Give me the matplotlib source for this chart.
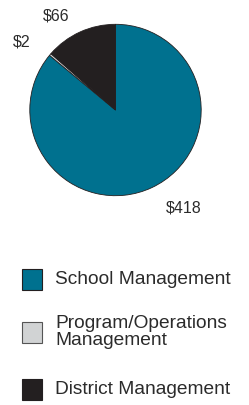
import matplotlib
matplotlib.use("Agg")
import matplotlib.pyplot as plt
from matplotlib.patches import Rectangle

# data
categories = ["School Management", "Program/Operations\nManagement", "District Management"]
values = [418, 2, 66]
labels = ["$418", "$2", "$66"]
colors = ["#00718F", "#D1D3D4", "#231F20"]

W, H = 249, 405
plt.rcParams['font.family'] = ['Liberation Sans', 'DejaVu Sans']
fig = plt.figure(figsize=(W / 100, H / 100), dpi=100)

# pie: centre and radius in pixels
cx, cy, r = 115.5, 110.0, 85.7
pad = 1.1
ax = fig.add_axes([(cx - r * pad) / W, 1 - (cy + r * pad) / H,
                   2 * r * pad / W, 2 * r * pad / H])
ax.pie(values, colors=colors, startangle=90, counterclock=False,
       wedgeprops=dict(edgecolor="#231F20", linewidth=0.6))
ax.set_xlim(-pad, pad)
ax.set_ylim(-pad, pad)
ax.set_aspect('equal')
ax.axis('off')

# value labels (pixel positions)
label_pos = [(184, 207.5), (22, 42.5), (56, 15.5)]
for lab, (x, y) in zip(labels, label_pos):
    fig.text(x / W, 1 - y / H, lab, ha='center', va='center',
             fontsize=11.5, color="#2b2b2b")

# legend drawn in pixel coordinates
lax = fig.add_axes([0, 0, 1, 1])
lax.set_xlim(0, W)
lax.set_ylim(H, 0)
lax.axis('off')
row_y = [279, 332, 389]
for cat, col, y in zip(categories, colors, row_y):
    ec = "#231F20" if col != "#D1D3D4" else "#555555"
    lax.add_patch(Rectangle((22, y - 10.5), 20, 21, facecolor=col,
                            edgecolor=ec, linewidth=0.8))
    lax.text(55, y, cat, ha='left', va='center', fontsize=13.8,
             color="#2b2b2b", linespacing=1.05)

fig.savefig("out.png", dpi=100)
